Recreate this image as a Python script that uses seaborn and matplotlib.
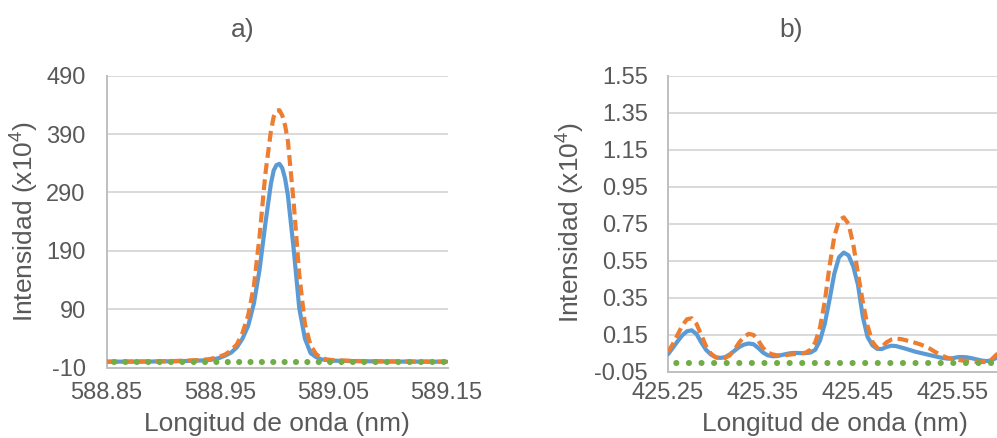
import matplotlib
matplotlib.use("Agg")
import matplotlib.pyplot as plt
import pandas as pd
import seaborn as sns

# ---------------- data ----------------
titles = ["a)", "b)"]
x_label = "Longitud de onda (nm)"
y_label = r"Intensidad (x10$^{4}$)"

# panel a
wl_a = [588.85, 588.87, 588.89, 588.91, 588.93, 588.94, 588.945, 588.95, 588.955,
        588.96, 588.965, 588.97, 588.975, 588.98, 588.985, 588.99, 588.995, 588.9975,
        589.0, 589.0025, 589.005, 589.0075, 589.01, 589.015, 589.02, 589.025, 589.03,
        589.035, 589.04, 589.045, 589.05, 589.07, 589.09, 589.11, 589.13, 589.15]
blue_a = [0.3, 0.4, 0.6, 1.0, 2.0, 3.0, 4.5, 7, 11,
          16, 25, 40, 62, 100, 158, 235, 305, 328,
          337, 339, 332, 314, 285, 195, 92, 40, 15,
          8, 4, 3, 2, 1.2, 0.8, 0.5, 0.4, 0.3]
orange_a = [0.3, 0.5, 0.8, 1.5, 3, 4.5, 6.5, 9, 13,
            20, 30, 50, 80, 130, 215, 320, 395, 420,
            430, 431, 422, 405, 378, 275, 150, 65, 28,
            13, 6, 4, 3, 1.5, 1, 0.6, 0.4, 0.3]
wl_green_a = [588.85, 588.90, 588.95, 589.00, 589.05, 589.10, 589.15]
green_a = [0, 0, 0, 0, 0, 0, 0]

x_ticks_a = [588.85, 588.95, 589.05, 589.15]
x_ticklabels_a = ["588.85", "588.95", "589.05", "589.15"]
y_ticks_a = [-10, 90, 190, 290, 390, 490]
y_ticklabels_a = ["-10", "90", "190", "290", "390", "490"]

# panel b
wl_b = [425.250, 425.255, 425.260, 425.265, 425.270, 425.275, 425.280, 425.285,
        425.290, 425.295, 425.300, 425.305, 425.310, 425.315, 425.320, 425.325,
        425.330, 425.335, 425.340, 425.345, 425.350, 425.355, 425.360, 425.365,
        425.370, 425.375, 425.380, 425.385, 425.390, 425.395, 425.400, 425.405,
        425.410, 425.415, 425.420, 425.425, 425.430, 425.435, 425.440, 425.445,
        425.450, 425.455, 425.460, 425.465, 425.470, 425.475, 425.480, 425.485,
        425.490, 425.495, 425.500, 425.505, 425.510, 425.515, 425.520, 425.525,
        425.530, 425.535, 425.540, 425.545, 425.550, 425.555, 425.560, 425.565,
        425.570, 425.575, 425.580, 425.585, 425.590, 425.597]
blue_b = [0.046, 0.080, 0.115, 0.148, 0.170, 0.175, 0.155, 0.110,
          0.070, 0.045, 0.030, 0.026, 0.030, 0.045, 0.065, 0.085,
          0.098, 0.104, 0.100, 0.080, 0.055, 0.040, 0.035, 0.036,
          0.042, 0.048, 0.052, 0.053, 0.052, 0.052, 0.055, 0.070,
          0.120, 0.210, 0.340, 0.480, 0.570, 0.595, 0.580, 0.520,
          0.420, 0.250, 0.140, 0.095, 0.075, 0.074, 0.085, 0.092,
          0.090, 0.083, 0.076, 0.068, 0.060, 0.054, 0.048, 0.042,
          0.036, 0.030, 0.025, 0.022, 0.025, 0.030, 0.031, 0.029,
          0.024, 0.018, 0.012, 0.009, 0.012, 0.030]
orange_b = [0.058, 0.100, 0.150, 0.200, 0.235, 0.240, 0.210, 0.150,
            0.090, 0.050, 0.030, 0.022, 0.025, 0.040, 0.070, 0.110,
            0.140, 0.156, 0.150, 0.120, 0.080, 0.055, 0.045, 0.040,
            0.040, 0.042, 0.045, 0.048, 0.050, 0.055, 0.070, 0.110,
            0.190, 0.330, 0.520, 0.680, 0.770, 0.785, 0.750, 0.640,
            0.480, 0.330, 0.200, 0.115, 0.080, 0.085, 0.110, 0.125,
            0.130, 0.128, 0.122, 0.115, 0.108, 0.100, 0.090, 0.078,
            0.062, 0.048, 0.035, 0.025, 0.020, 0.015, 0.012, 0.010,
            0.008, 0.005, 0.004, 0.004, 0.015, 0.050]
wl_green_b = [425.25, 425.30, 425.35, 425.40, 425.45, 425.50, 425.55, 425.597]
green_b = [0, 0, 0, 0, 0, 0, 0, 0]

x_ticks_b = [425.25, 425.35, 425.45, 425.55]
x_ticklabels_b = ["425.25", "425.35", "425.45", "425.55"]
y_ticks_b = [-0.05, 0.15, 0.35, 0.55, 0.75, 0.95, 1.15, 1.35, 1.55]
y_ticklabels_b = ["-0.05", "0.15", "0.35", "0.55", "0.75", "0.95", "1.15", "1.35", "1.55"]

# ---------------- style ----------------
sns.set_style("white")
plt.rcParams['font.family'] = ['Liberation Sans', 'DejaVu Sans']
plt.rcParams['mathtext.fontset'] = 'custom'
plt.rcParams['mathtext.rm'] = 'Liberation Sans'
plt.rcParams['mathtext.it'] = 'Liberation Sans'
plt.rcParams['mathtext.default'] = 'regular'

BLUE = "#5B9BD5"
ORANGE = "#ED7D31"
GREEN = "#70AD47"
TXT = "#595959"
GRID = "#D9D9D9"
AXIS = "#BFBFBF"

W, H = 997, 438
fig = plt.figure(figsize=(W / 100, H / 100), dpi=100)


def axes_px(l, t, r, b):
    return fig.add_axes([l / W, 1 - b / H, (r - l) / W, (b - t) / H])


ax_a = axes_px(106.5, 75.7, 448, 367.7)
ax_b = axes_px(668, 75.7, 997, 372)

df_a = pd.DataFrame({"wl": wl_a, "blue": blue_a, "orange": orange_a})
df_ga = pd.DataFrame({"wl": wl_green_a, "green": green_a})
df_b = pd.DataFrame({"wl": wl_b, "blue": blue_b, "orange": orange_b})
df_gb = pd.DataFrame({"wl": wl_green_b, "green": green_b})


def draw(ax, df, dfg, dot_gap):
    sns.lineplot(data=df, x="wl", y="blue", ax=ax, color=BLUE, linewidth=3.0,
                 solid_capstyle="round", solid_joinstyle="round", zorder=3)
    sns.lineplot(data=df, x="wl", y="orange", ax=ax, color=ORANGE, linewidth=3.0,
                 linestyle=(0, (2.6, 1.3)), dash_capstyle="butt", zorder=4)
    sns.lineplot(data=dfg, x="wl", y="green", ax=ax, color=GREEN, linewidth=4.4,
                 linestyle=(0.7, (0.01, dot_gap)), dash_capstyle="round", zorder=5)


draw(ax_a, df_a, df_ga, 1.85)
draw(ax_b, df_b, df_gb, 2.05)

ax_a.set_xlim(588.85, 589.1512)
ax_a.set_ylim(-10, 490)
ax_a.set_xticks(x_ticks_a, x_ticklabels_a)
ax_a.set_yticks(y_ticks_a, y_ticklabels_a)

ax_b.set_xlim(425.25, 425.5963)
ax_b.set_ylim(-0.05, 1.55)
ax_b.set_xticks(x_ticks_b, x_ticklabels_b)
ax_b.set_yticks(y_ticks_b, y_ticklabels_b)

for ax, ypad, xpad in ((ax_a, 15, 10), (ax_b, 14.4, 7.4)):
    ax.set_xlabel("")
    ax.set_ylabel("")
    ax.set_facecolor("white")
    ax.yaxis.grid(True, color=GRID, linewidth=1.4, zorder=0)
    ax.xaxis.grid(False)
    ax.set_axisbelow(True)
    for s in ("top", "right"):
        ax.spines[s].set_visible(False)
    for s in ("left", "bottom"):
        ax.spines[s].set_visible(True)
        ax.spines[s].set_color(AXIS)
        ax.spines[s].set_linewidth(1.4)
    ax.tick_params(axis="both", length=0, labelsize=17, labelcolor=TXT)
    ax.tick_params(axis="y", pad=ypad)
    ax.tick_params(axis="x", pad=xpad)
    legend = ax.get_legend()
    if legend is not None:
        legend.remove()

# titles
fig.text(243 / W, 1 - 30 / H, titles[0], ha="center", va="center", fontsize=19, color=TXT)
fig.text(791 / W, 1 - 30 / H, titles[1], ha="center", va="center", fontsize=19, color=TXT)

# x labels
fig.text(276.5 / W, 1 - 431.5 / H, x_label, ha="center", va="baseline", fontsize=19, color=TXT)
fig.text(835 / W, 1 - 431.5 / H, x_label, ha="center", va="baseline", fontsize=19, color=TXT)

# y labels
fig.text(33.3 / W, 1 - 222 / H, y_label, ha="center", va="baseline", rotation=90,
         rotation_mode="anchor", fontsize=19, color=TXT)
fig.text(580 / W, 1 - 223 / H, y_label, ha="center", va="baseline", rotation=90,
         rotation_mode="anchor", fontsize=19, color=TXT)

fig.savefig("out.png", dpi=100)
